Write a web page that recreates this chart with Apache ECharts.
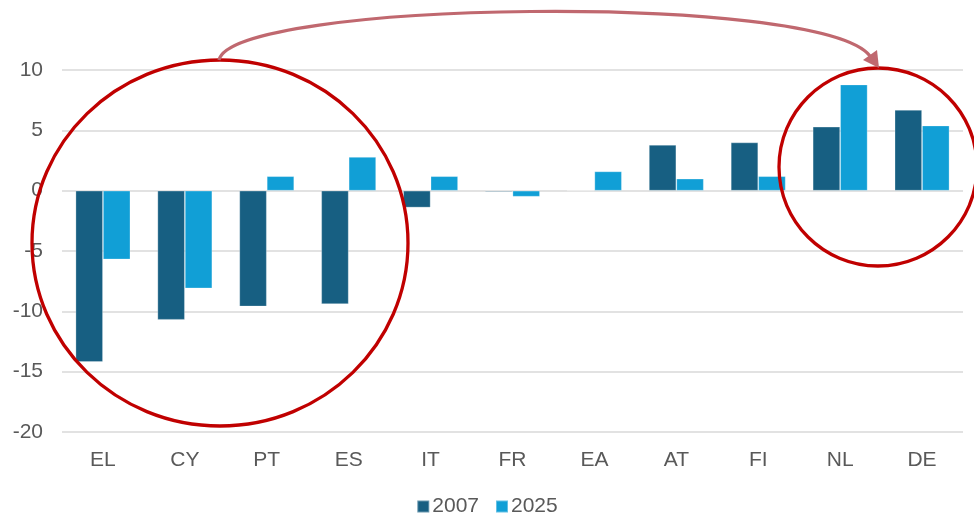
<!DOCTYPE html>
<html>
<head>
<meta charset="utf-8">
<script src="https://cdn.jsdelivr.net/npm/echarts@6/dist/echarts.min.js"></script>
<style>
html,body{margin:0;padding:0;background:#fff;}
#chart{width:974px;height:515px;}
</style>
</head>
<body>
<div id="chart"></div>
<script>
const categories = ['EL','CY','PT','ES','IT','FR','EA','AT','FI','NL','DE'];
const values2007 = [-14.2,-10.7,-9.6,-9.4,-1.4,-0.1,0,3.8,4.0,5.3,6.7];
const values2025 = [-5.7,-8.1,1.2,2.8,1.2,-0.5,1.6,1.0,1.2,8.8,5.4];
const seriesNames = ['2007','2025'];
const yTicks = {min:-20, max:10, interval:5};

const chart = echarts.init(document.getElementById('chart'));
const font = 'Liberation Sans, Arial, sans-serif';
const textColor = '#595959';
chart.setOption({
  animation:false,
  backgroundColor:'#fff',
  grid:{left:62,right:11,top:70,bottom:83,containLabel:false},
  legend:{
    top:491,left:'center',
    itemWidth:12,itemHeight:12,itemGap:16,
    icon:'rect',
    textStyle:{fontFamily:font,fontSize:21,color:textColor,padding:[0,0,0,-2]},
    data:seriesNames
  },
  xAxis:{
    type:'category',data:categories,
    axisLine:{show:false},axisTick:{show:false},
    axisLabel:{fontFamily:font,fontSize:21,color:textColor,margin:18}
  },
  yAxis:{
    type:'value',min:yTicks.min,max:yTicks.max,interval:yTicks.interval,
    axisLine:{show:false},axisTick:{show:false},
    axisLabel:{fontFamily:font,fontSize:21,color:textColor,margin:19},
    splitLine:{lineStyle:{color:'#d9d9d9',width:1.5}}
  },
  series:[
    {name:seriesNames[0],type:'bar',data:values2007,barGap:'0%',barCategoryGap:'33%',
     itemStyle:{color:'#175F82',borderColor:'rgba(255,255,255,0.35)',borderWidth:0.8}},
    {name:seriesNames[1],type:'bar',data:values2025,barGap:'0%',barCategoryGap:'33%',
     itemStyle:{color:'#119FD6',borderColor:'rgba(255,255,255,0.35)',borderWidth:0.8}}
  ],
  graphic:[
    {type:'ellipse',shape:{cx:220,cy:243,rx:188,ry:183},
     style:{fill:'none',stroke:'#C00000',lineWidth:3.3},z:100},
    {type:'ellipse',shape:{cx:878,cy:167,rx:99,ry:99},
     style:{fill:'none',stroke:'#C00000',lineWidth:3.3},z:100},
    {type:'bezierCurve',shape:{x1:219,y1:60,cpx1:232,cpy1:0,cpx2:820,cpy2:-8,x2:870,y2:56},
     style:{fill:'none',stroke:'#C0686F',lineWidth:3.2},z:100},
    {type:'polygon',shape:{points:[[879,68],[863,60],[877,50]]},
     style:{fill:'#C0686F'},z:100}
  ]
});
</script>
</body>
</html>
